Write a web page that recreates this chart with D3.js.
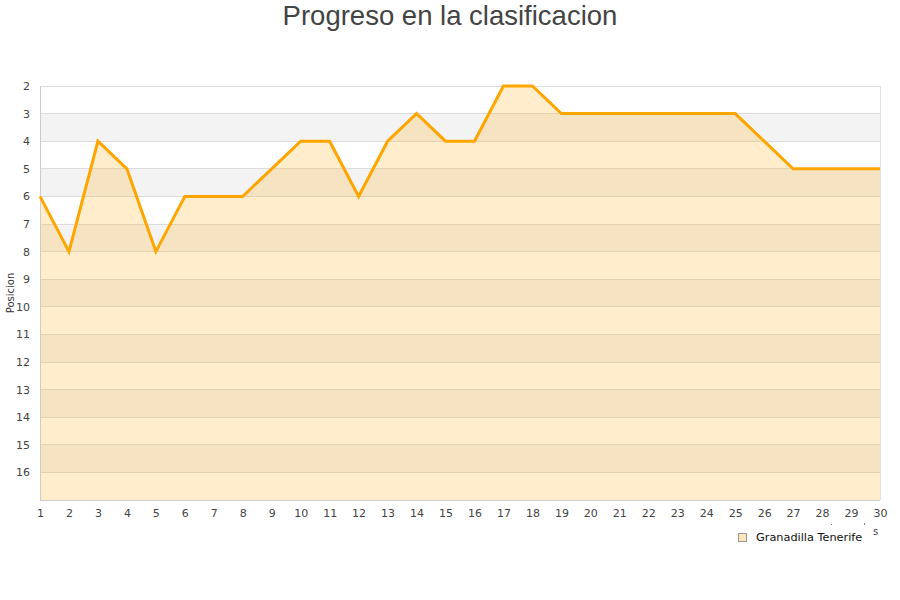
<!DOCTYPE html>
<html><head><meta charset="utf-8">
<script src="https://cdn.jsdelivr.net/npm/d3@7"></script>
<style>body{margin:0;background:#fff;}svg{display:block;}</style>
</head><body>
<script>
const title = "Progreso en la clasificacion";
const yTitle = "Posicion";
const seriesName = "Granadilla Tenerife";
const jornadas = d3.range(1, 31);
const posiciones = [6,8,4,5,8,6,6,6,5,4,4,6,4,3,4,4,2,2,3,3,3,3,3,3,3,4,5,5,5,5];
const yTicks = d3.range(2, 17);

const W = 900, H = 600;
const svg = d3.select("body").append("svg").attr("width", W).attr("height", H);

const x = d3.scaleLinear().domain([1, 30]).range([40, 880]);
const y = d3.scaleLinear().domain([2, 17]).range([86, 500]);

// bands
const bands = d3.range(2, 17);
svg.append("g").selectAll("rect").data(bands).join("rect")
  .attr("x", x(1)).attr("width", x(30) - x(1))
  .attr("y", d => y(d)).attr("height", d => y(d + 1) - y(d))
  .attr("fill", d => (d % 2 === 1) ? "#f3f3f3" : "#ffffff");

// grid
svg.append("g").selectAll("line").data(yTicks).join("line")
  .attr("x1", x(1)).attr("x2", x(30))
  .attr("y1", d => y(d)).attr("y2", d => y(d))
  .attr("stroke", "#dcdcdc").attr("stroke-width", 1).attr("shape-rendering","crispEdges");

const data = jornadas.map((j, i) => ({j, p: posiciones[i]}));

// area
svg.append("path").datum(data)
  .attr("d", d3.area().x(d => x(d.j)).y0(y(17)).y1(d => y(d.p)))
  .attr("fill", "rgba(255,165,0,0.2)");

// border
svg.append("line").attr("x1", x(1)).attr("x2", x(1)).attr("y1", y(2)).attr("y2", y(17))
  .attr("stroke", "#cccccc").attr("shape-rendering","crispEdges");
svg.append("line").attr("x1", x(30)).attr("x2", x(30)).attr("y1", y(2)).attr("y2", y(17))
  .attr("stroke", "#e0e0e0").attr("shape-rendering","crispEdges");
svg.append("line").attr("x1", x(1)).attr("x2", x(30)).attr("y1", y(17)).attr("y2", y(17))
  .attr("stroke", "#cccccc").attr("shape-rendering","crispEdges");

// line
svg.append("path").datum(data)
  .attr("d", d3.line().x(d => x(d.j)).y(d => y(d.p)))
  .attr("fill", "none").attr("stroke", "#ffa500").attr("stroke-width", 3)
  .attr("stroke-linejoin", "miter");

// y axis labels
const yAxis = d3.axisLeft(y).tickValues(yTicks).tickSize(0).tickPadding(10);
const gy = svg.append("g").attr("transform", `translate(${x(1)},0)`).call(yAxis);
gy.select(".domain").remove();
gy.selectAll("text").attr("font-family", "DejaVu Sans, sans-serif").attr("font-size", 11).attr("fill", "#444");

// x axis labels
const xAxis = d3.axisBottom(x).tickValues(jornadas).tickSize(0).tickPadding(9);
const gx = svg.append("g").attr("transform", `translate(0,${y(17)})`).call(xAxis);
gx.select(".domain").remove();
gx.selectAll("text").attr("font-family", "DejaVu Sans, sans-serif").attr("font-size", 11).attr("fill", "#444");

// title
svg.append("text").attr("x", 450).attr("y", 25).attr("text-anchor", "middle")
  .attr("font-family", "Liberation Sans, Arial, sans-serif").attr("font-size", 27.5).attr("fill", "#444")
  .text(title);

// y title
svg.append("text").attr("transform", "translate(14,293) rotate(-90)").attr("text-anchor", "middle")
  .attr("font-family", "DejaVu Sans, sans-serif").attr("font-size", 10).attr("fill", "#333")
  .text(yTitle);

// clipped x title remnant
svg.append("text").attr("x", 873).attr("y", 535)
  .attr("font-family", "DejaVu Sans, sans-serif").attr("font-size", 10).attr("fill", "#444").text("s");
svg.append("rect").attr("x", 831).attr("y", 524).attr("width", 1).attr("height", 1).attr("fill", "#888");
svg.append("rect").attr("x", 864).attr("y", 523).attr("width", 1).attr("height", 2).attr("fill", "#888");

// legend
svg.append("rect").attr("x", 738.5).attr("y", 533.5).attr("width", 8).attr("height", 8)
  .attr("fill", "#ffe6b8").attr("stroke", "#999").attr("stroke-width", 1);
svg.append("text").attr("x", 756).attr("y", 541)
  .attr("font-family", "DejaVu Sans, sans-serif").attr("font-size", 11.3).attr("fill", "#111")
  .text(seriesName);
</script>
</body></html>
